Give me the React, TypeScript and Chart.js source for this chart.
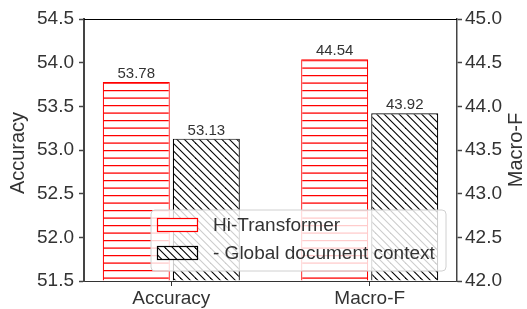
import React, { useEffect, useRef } from 'react';
import { Chart, registerables } from 'chart.js';

Chart.register(...registerables);

// ---- data ----
const categories = ['Accuracy', 'Macro-F'];
const seriesNames = ['Hi-Transformer', '- Global document context'];
const hiTransformer = [53.78, 44.54];
const globalContext = [53.13, 43.92];
const axisTitles = ['Accuracy', 'Macro-F'];
const leftAxisRange = [51.5, 54.5];
const rightAxisRange = [42.0, 45.0];
const tickStep = 0.5;

const FONT = '"Liberation Sans", Arial, sans-serif';
const TEXT = '#333333';
const AXIS = '#444444';

function horizontalHatch(color: string): CanvasPattern | string {
  const c = document.createElement('canvas');
  c.width = 8;
  c.height = 15;
  const g = c.getContext('2d');
  if (!g) return color;
  g.fillStyle = '#ffffff';
  g.fillRect(0, 0, 8, 15);
  g.strokeStyle = color;
  g.lineWidth = 1.3;
  for (const y of [0.6, 8.1]) {
    g.beginPath();
    g.moveTo(-1, y);
    g.lineTo(9, y);
    g.stroke();
  }
  return g.createPattern(c, 'repeat') || color;
}

function diagonalHatch(color: string): CanvasPattern | string {
  const s = 15;
  const c = document.createElement('canvas');
  c.width = s;
  c.height = s;
  const g = c.getContext('2d');
  if (!g) return color;
  g.fillStyle = '#ffffff';
  g.fillRect(0, 0, s, s);
  g.strokeStyle = color;
  g.lineWidth = 1.1;
  for (const k of [-15, -7.5, 0, 7.5, 15]) {
    g.beginPath();
    g.moveTo(k - 1, -1);
    g.lineTo(k + s + 1, s + 1);
    g.stroke();
  }
  return g.createPattern(c, 'repeat') || color;
}

export default function App() {
  const ref = useRef<HTMLCanvasElement | null>(null);

  useEffect(() => {
    const canvas = ref.current;
    if (!canvas) return;

    const seriesValues = [hiTransformer, globalContext];
    const seriesColors = ['#ff0000', '#000000'];
    const patterns = [horizontalHatch('#ff0000'), diagonalHatch('#000000')];
    const axisIds = ['y', 'y1'];
    const axisMins = [leftAxisRange[0], rightAxisRange[0]];

    const datasets: any[] = [];
    categories.forEach((_c, ci) => {
      seriesValues.forEach((vals, si) => {
        datasets.push({
          label: seriesNames[si],
          yAxisID: axisIds[ci],
          base: axisMins[ci],
          data: categories.map((_, i) => ({ x: i, y: i === ci ? vals[ci] : null })),
          backgroundColor: patterns[si],
          borderColor: seriesColors[si],
          borderWidth: 1.2,
          skipNull: true,
          categoryPercentage: 0.706,
          barPercentage: 0.957,
        });
      });
    });

    const custom = {
      id: 'custom',
      afterDatasetsDraw(chart: any) {
        const ctx = chart.ctx;
        ctx.save();
        ctx.font = `15px ${FONT}`;
        ctx.fillStyle = TEXT;
        ctx.textAlign = 'center';
        ctx.textBaseline = 'alphabetic';
        chart.data.datasets.forEach((ds: any, di: number) => {
          const meta = chart.getDatasetMeta(di);
          ds.data.forEach((p: any, i: number) => {
            if (p.y === null || p.y === undefined) return;
            const el = meta.data[i];
            ctx.fillText(p.y.toFixed(2), el.x, el.y - 4);
          });
        });
        ctx.restore();
      },
      afterDraw(chart: any) {
        const ctx = chart.ctx;
        const a = chart.chartArea;
        ctx.save();
        // top spine
        ctx.strokeStyle = '#000000';
        ctx.lineWidth = 1;
        ctx.beginPath();
        ctx.moveTo(a.left, Math.round(a.top) + 0.5);
        ctx.lineTo(a.right, Math.round(a.top) + 0.5);
        ctx.stroke();

        // axis titles
        ctx.font = `20px ${FONT}`;
        ctx.fillStyle = TEXT;
        ctx.textAlign = 'center';
        ctx.textBaseline = 'middle';
        ctx.save();
        ctx.translate(18, (a.top + a.bottom) / 2 + 3);
        ctx.rotate(-Math.PI / 2);
        ctx.fillText(axisTitles[0], 0, 0);
        ctx.restore();
        ctx.save();
        ctx.translate(516, (a.top + a.bottom) / 2);
        ctx.rotate(-Math.PI / 2);
        ctx.fillText(axisTitles[1], 0, 0);
        ctx.restore();

        // legend box
        const bx = 151, by = 210, bw = 295, bh = 61, r = 4;
        ctx.beginPath();
        ctx.moveTo(bx + r, by);
        ctx.lineTo(bx + bw - r, by);
        ctx.quadraticCurveTo(bx + bw, by, bx + bw, by + r);
        ctx.lineTo(bx + bw, by + bh - r);
        ctx.quadraticCurveTo(bx + bw, by + bh, bx + bw - r, by + bh);
        ctx.lineTo(bx + r, by + bh);
        ctx.quadraticCurveTo(bx, by + bh, bx, by + bh - r);
        ctx.lineTo(bx, by + r);
        ctx.quadraticCurveTo(bx, by, bx + r, by);
        ctx.closePath();
        ctx.fillStyle = 'rgba(255,255,255,0.8)';
        ctx.fill();
        ctx.strokeStyle = '#d0d0d0';
        ctx.lineWidth = 1;
        ctx.stroke();

        const rowsY = [225, 253];
        seriesNames.forEach((name, si) => {
          const cy = rowsY[si];
          ctx.fillStyle = patterns[si];
          ctx.fillRect(157, cy - 7, 41, 14);
          ctx.strokeStyle = seriesColors[si];
          ctx.lineWidth = 1.2;
          ctx.strokeRect(157.5, cy - 6.5, 40, 13);
          ctx.fillStyle = TEXT;
          ctx.font = `19px ${FONT}`;
          ctx.textAlign = 'left';
          ctx.textBaseline = 'middle';
          ctx.fillText(name, 213, cy + 1);
        });
        ctx.restore();
      },
    };

    const yAxis = (range: number[], position: string, padding: number, width: number, borderWidth: number) => ({
      type: 'linear',
      position,
      min: range[0],
      max: range[1],
      ticks: {
        stepSize: tickStep,
        callback: (v: any) => Number(v).toFixed(1),
        font: { family: FONT, size: 19 },
        color: TEXT,
        padding,
      },
      grid: { drawOnChartArea: false, drawTicks: true, tickLength: 5, tickColor: AXIS, tickWidth: 1.5 },
      border: { display: true, color: AXIS, width: borderWidth },
      afterFit: (s: any) => {
        s.width = width;
      },
    });

    const chart = new Chart(canvas, {
      type: 'bar',
      data: { datasets },
      options: {
        animation: false,
        responsive: false,
        maintainAspectRatio: false,
        layout: { padding: { top: 19, left: 0, right: 0, bottom: 0 } },
        plugins: { legend: { display: false }, tooltip: { enabled: false } },
        scales: {
          x: {
            type: 'linear',
            offset: false,
            min: -0.44,
            max: 1.44,
            bounds: 'data',
            afterBuildTicks: (s: any) => {
              s.ticks = categories.map((_, i) => ({ value: i }));
            },
            ticks: {
              callback: (v: any) => categories[v] ?? '',
              font: { family: FONT, size: 19 },
              color: TEXT,
              padding: 1,
              maxRotation: 0,
              autoSkip: false,
            },
            grid: { offset: false, drawOnChartArea: false, drawTicks: true, tickLength: 5, tickColor: '#333333', tickWidth: 1 },
            border: { display: true, color: '#333333', width: 1 },
            afterFit: (s: any) => {
              s.height = 28;
            },
          },
          y: yAxis(leftAxisRange, 'left', 5, 84, 2),
          y1: yAxis(rightAxisRange, 'right', 3, 70, 1.5),
        } as any,
      },
      plugins: [custom],
    } as any);

    return () => chart.destroy();
  }, []);

  return (
    <div style={{ position: 'fixed', left: 0, top: 0, width: 527, height: 309, background: '#fff' }}>
      <canvas ref={ref} width={527} height={309} style={{ width: 527, height: 309, display: 'block' }} />
    </div>
  );
}
